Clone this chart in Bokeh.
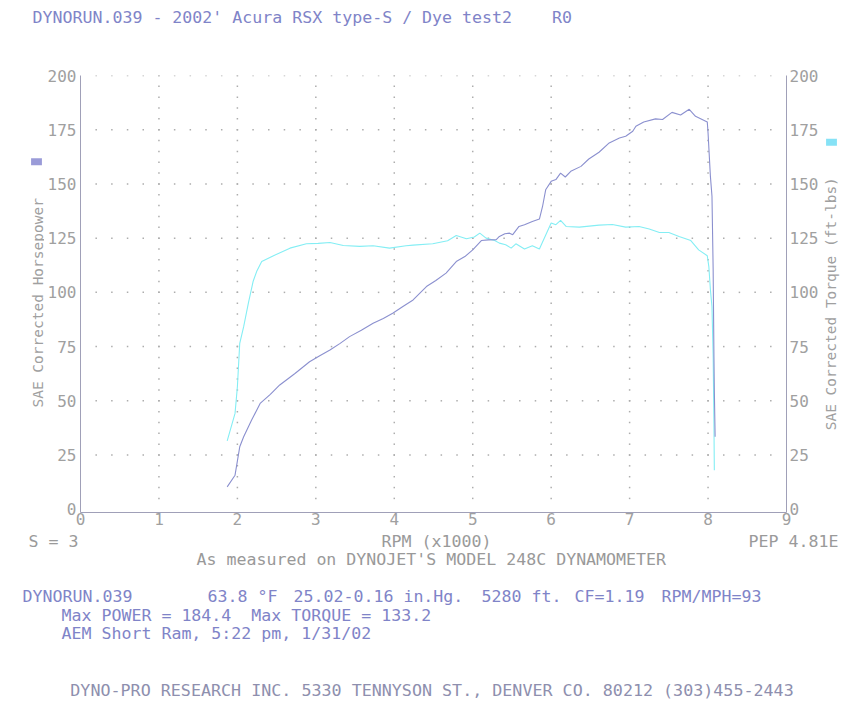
import numpy as np
from bokeh.plotting import figure
from bokeh.layouts import column, row
from bokeh.models import Range1d, LinearAxis, FixedTicker, Label
from bokeh.embed import file_html
from bokeh.resources import INLINE

# ---------------- data ----------------
x_ticks = [0, 1, 2, 3, 4, 5, 6, 7, 8, 9]
y_ticks = [0, 25, 50, 75, 100, 125, 150, 175, 200]

hp_rpm = [1.87, 1.97, 2.03, 2.08, 2.18, 2.29, 2.42, 2.54, 2.73, 2.92, 3.05, 3.18, 3.31, 3.43,
          3.58, 3.73, 3.86, 3.98, 4.11, 4.24, 4.41, 4.53, 4.66, 4.79, 4.90, 5.00, 5.11, 5.20,
          5.30, 5.34, 5.41, 5.47, 5.51, 5.59, 5.66, 5.76, 5.85, 5.89, 5.93, 6.00, 6.06, 6.12,
          6.18, 6.25, 6.38, 6.48, 6.61, 6.74, 6.87, 6.95, 7.04, 7.08, 7.18, 7.33, 7.42, 7.54,
          7.65, 7.76, 7.84, 7.99, 8.00, 8.03, 8.05, 8.065, 8.075, 8.08, 8.09]
hp = [10.3, 15.7, 28.8, 33.4, 41.0, 48.8, 53.0, 57.3, 62.5, 68.0, 70.8, 73.4, 76.5, 79.6,
      82.5, 85.8, 88.0, 90.4, 93.5, 96.5, 102.7, 105.5, 108.9, 114.2, 116.5, 119.6, 123.9, 124.2,
      124.3, 125.8, 127.0, 127.3, 126.6, 130.4, 131.2, 132.7, 133.8, 139.6, 147.3, 151.2, 152.0, 155.0,
      153.2, 155.8, 158.1, 161.5, 164.6, 168.9, 171.2, 172.0, 174.3, 176.6, 178.6, 180.0, 179.7, 183.0,
      181.8, 184.4, 181.2, 178.6, 173.5, 153.5, 144.3, 110.4, 70.3, 55.0, 33.4]

tq_rpm = [1.87, 1.97, 2.00, 2.03, 2.08, 2.14, 2.20, 2.25, 2.31, 2.46, 2.67, 2.88, 3.03, 3.18,
          3.35, 3.56, 3.73, 3.94, 4.15, 4.24, 4.49, 4.68, 4.79, 4.92, 5.02, 5.09, 5.17, 5.28,
          5.34, 5.42, 5.49, 5.55, 5.66, 5.76, 5.85, 6.00, 6.06, 6.12, 6.19, 6.36, 6.61, 6.78,
          6.95, 7.12, 7.25, 7.38, 7.50, 7.63, 7.78, 7.88, 7.99, 8.01, 8.03, 8.05, 8.065, 8.075, 8.08]
tq = [31.5, 44.2, 56.5, 76.5, 84.2, 95.0, 105.0, 110.0, 114.2, 116.9, 120.4, 122.4, 122.6, 123.0,
      121.6, 121.2, 121.5, 120.4, 121.5, 121.8, 122.4, 123.8, 126.2, 124.7, 125.5, 127.3, 125.0, 123.9,
      122.7, 122.0, 120.4, 122.4, 120.0, 121.5, 120.0, 132.0, 131.2, 133.2, 130.4, 130.1, 131.0, 131.3,
      130.1, 130.4, 129.2, 127.6, 127.6, 125.8, 123.9, 119.6, 116.9, 111.9, 101.2, 93.4, 70.3, 39.6, 18.0]

NB = "\u00a0"  # non-breaking space keeps runs of blanks visible
title_text = "DYNORUN.039 - 2002' Acura RSX type-S / Dye test2" + NB * 4 + "R0"
hp_axis_label = "SAE Corrected Horsepower"
tq_axis_label = "SAE Corrected Torque (ft-lbs)"
x_axis_label = "RPM (x1000)"
left_note = "S = 3"
right_note = "PEP 4.81E"
measured_text = "As measured on DYNOJET'S MODEL 248C DYNAMOMETER"
info_line1 = ["DYNORUN.039", "63.8 \u00b0F", "25.02-0.16 in.Hg.", "5280 ft.", "CF=1.19", "RPM/MPH=93"]
info_line2 = "Max POWER = 184.4" + NB * 2 + "Max TORQUE = 133.2"
info_line3 = "AEM Short Ram, 5:22 pm, 1/31/02"
footer_text = "DYNO-PRO RESEARCH INC. 5330 TENNYSON ST., DENVER CO. 80212 (303)455-2443"

# ---------------- layout (page pixels) ----------------
PAGE_W = 850
TOP_H = 60          # title strip: y 0..60
MAIN_BOTTOM = 531   # chart strip: y 60..531
PAGE_H = 702
LEFT_W = 44         # left strip: x 0..44
RIGHT_X = 821       # right strip: x 821..850
FRAME_L, FRAME_R, FRAME_T, FRAME_B = 80, 787, 75, 512

FONT = "DejaVu Sans Mono"
FS = "16.6px"
TICK_FS = "16px"
GREY = "#a0a0a0"
BLUE = "#7f84c8"
HP_COLOR = "#8b90cf"
TQ_COLOR = "#84eef4"


def text_fig(x0, x1, y0, y1):
    """A bare figure whose data coordinates equal page pixels."""
    f = figure(width=x1 - x0, height=y1 - y0, output_backend="svg", toolbar_location=None,
               x_range=Range1d(x0, x1), y_range=Range1d(y1, y0),
               x_axis_location=None, y_axis_location=None, min_border=0)
    f.outline_line_color = None
    f.grid.visible = False
    f.background_fill_color = "white"
    f.border_fill_color = "white"
    return f


def add_text(f, txt, X, Y, color, align="left", angle=0.0, size=FS):
    f.add_layout(Label(x=X, y=Y, text=txt, text_align=align, text_baseline="middle",
                       text_font=FONT, text_font_size=size, text_color=color, angle=angle))


def add_swatch(f, X, Y, color):
    f.add_layout(Label(x=X, y=Y, text=NB * 3, text_align="center",
                       text_baseline="middle", text_font=FONT, text_font_size="6px",
                       background_fill_color=color, text_color=color))


# ---- main chart ----
p = figure(width=RIGHT_X - LEFT_W, height=MAIN_BOTTOM - TOP_H, output_backend="svg",
           toolbar_location=None, x_range=Range1d(0, 9), y_range=Range1d(-1.5, 200),
           min_border_left=FRAME_L - LEFT_W, min_border_right=RIGHT_X - FRAME_R,
           min_border_top=FRAME_T - TOP_H, min_border_bottom=MAIN_BOTTOM - FRAME_B)
p.outline_line_color = None
p.xgrid.visible = False
p.ygrid.visible = False
p.background_fill_color = "white"
p.border_fill_color = "white"


def style_axis(ax):
    ax.major_tick_line_color = None
    ax.minor_tick_line_color = None
    ax.major_tick_out = 0
    ax.major_tick_in = 0
    ax.minor_tick_out = 0
    ax.minor_tick_in = 0
    ax.axis_line_color = "#a0a0b8"
    ax.axis_line_width = 1
    ax.major_label_text_color = GREY
    ax.major_label_text_font = FONT
    ax.major_label_text_font_size = TICK_FS


p.xaxis.ticker = FixedTicker(ticks=x_ticks)
p.yaxis.ticker = FixedTicker(ticks=y_ticks)
style_axis(p.xaxis[0])
style_axis(p.yaxis[0])
p.xaxis.major_label_standoff = 0
p.yaxis.major_label_standoff = 4
ra = LinearAxis(ticker=FixedTicker(ticks=y_ticks))
style_axis(ra)
ra.major_label_standoff = 3
p.add_layout(ra, "right")

# dotted grid lattice derived from the tick arrays
gx, gy = [], []
for yv in y_ticks[1:]:
    for xv in np.arange(x_ticks[0] + 0.2, x_ticks[-1] - 0.1, 0.2):
        gx.append(xv); gy.append(yv)
for xv in x_ticks[1:-1]:
    for yv in np.arange(5, y_ticks[-1] + 0.1, 5):
        gx.append(xv); gy.append(yv)
p.scatter(gx, gy, marker="square", size=1.5, fill_color="#adadad", line_color=None)

p.line(tq_rpm, tq, line_color=TQ_COLOR, line_width=1.1)
p.line(hp_rpm, hp, line_color=HP_COLOR, line_width=1.1)

# ---- title strip ----
top = text_fig(0, PAGE_W, 0, TOP_H)
add_text(top, title_text, 32, 17, BLUE)

# ---- left / right strips ----
left = text_fig(0, LEFT_W, TOP_H, MAIN_BOTTOM)
add_text(left, hp_axis_label, 37, 305, GREY, align="center", angle=np.pi / 2, size="14.5px")
add_swatch(left, 36, 153, "#9a9bd8")

right = text_fig(RIGHT_X, PAGE_W, TOP_H, MAIN_BOTTOM)
add_text(right, tq_axis_label, 830, 306, GREY, align="center", angle=np.pi / 2, size="14.5px")
add_swatch(right, 831, 132, "#86e2f6")

# ---- bottom strip ----
bot = text_fig(0, PAGE_W, MAIN_BOTTOM, PAGE_H)
add_text(bot, left_note, 28, 541, "#9a9a9a")
add_text(bot, x_axis_label, 436, 541, "#9a9a9a", align="center")
add_text(bot, right_note, 838, 541, "#9a9a9a", align="right")
add_text(bot, measured_text, 196, 559, "#999999")
line1_x = [22, 207, 293, 481, 574, 661]
for t, xx in zip(info_line1, line1_x):
    add_text(bot, t, xx, 596, BLUE)
add_text(bot, info_line2, 61, 615, BLUE)
add_text(bot, info_line3, 61, 633, BLUE)
add_text(bot, footer_text, 431.5, 689, "#8e8fae", align="center", size="16.7px")

layout = column(top, row(left, p, right), bot)
open("out.html", "w").write(file_html(layout, INLINE))
